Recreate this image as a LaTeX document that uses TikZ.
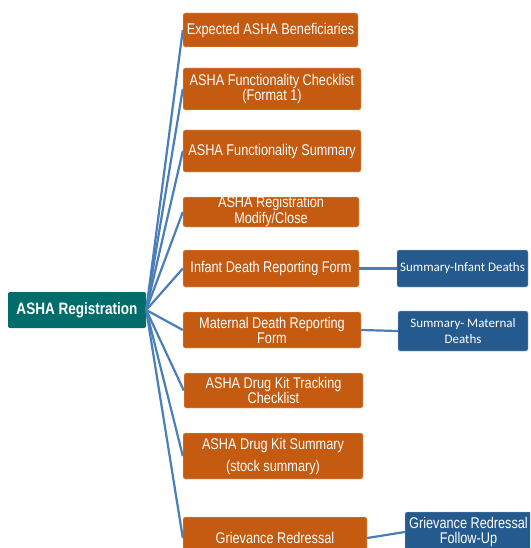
\documentclass[tikz,border=0pt]{standalone}
\usepackage{fontspec}
\setmainfont{Liberation Sans}
\newfontfamily\narrowfont[FakeStretch=0.82]{Liberation Sans}
\newfontfamily\calfont{Carlito}
\begin{document}
\begin{tikzpicture}[x=1pt,y=-1pt,
  obox/.style={draw=orange!40!white, line width=0.4pt, fill=ora, rounded corners=2pt, text=white,
     align=center, inner sep=1pt, font=\narrowfont\fontsize{15.5}{15}\selectfont},
  bbox/.style={draw=blue!30!white, line width=0.4pt, fill=navy, rounded corners=2pt, text=white,
     align=center, inner sep=1pt, font=\calfont\fontsize{13}{16}\selectfont},
  link/.style={draw=lnk, line width=2.2pt}]
\definecolor{ora}{HTML}{C55A11}
\definecolor{navy}{HTML}{245A8D}
\definecolor{teal2}{HTML}{006D6A}
\definecolor{lnk}{HTML}{4A7EBB}
\useasboundingbox (0,0) rectangle (530,548);
\clip (0,0) rectangle (530,548);
\node[fill=teal2, rounded corners=2pt, text=white, minimum width=138, minimum height=36, inner sep=1pt,
  font=\narrowfont\bfseries\fontsize{16.5}{17}\selectfont] (root) at (77,310) {ASHA Registration};
\node[obox, minimum width=175, minimum height=34] (b1) at (270.5,30) {Expected ASHA Beneficiaries};
\node[obox, minimum width=178, minimum height=42] (b2) at (272,89) {ASHA Functionality Checklist\\(Format 1)};
\node[obox, minimum width=178, minimum height=42] (b3) at (272,151) {ASHA Functionality Summary};
\node[obox, minimum width=176, minimum height=30, text height=0pt, text depth=0pt] (b4) at (271,212) {};
\node[text=white, align=center, font=\narrowfont\fontsize{15.5}{16}\selectfont] at (271,211) {ASHA Registration\\Modify/Close};
\node[obox, minimum width=176, minimum height=37] (b5) at (271,268.5) {Infant Death Reporting Form};
\node[obox, minimum width=178, minimum height=36] (b6) at (272,330) {Maternal Death Reporting\\Form};
\node[obox, minimum width=179, minimum height=35] (b7) at (273.5,390.5) {ASHA Drug Kit Tracking\\Checklist};
\node[obox, minimum width=180, minimum height=46, font=\narrowfont\fontsize{15.5}{22}\selectfont] (b8) at (273,456) {ASHA Drug Kit Summary\\(stock summary)};
\node[obox, minimum width=184, minimum height=42] (b9) at (275,538) {Grievance Redressal};
\node[bbox, minimum width=131, minimum height=37] (s1) at (462.5,268.5) {Summary-Infant Deaths};
\node[bbox, minimum width=130, minimum height=40] (s2) at (463,331) {Summary- Maternal\\Deaths};
\node[bbox, minimum width=127, minimum height=40, inner sep=0pt, font=\narrowfont\fontsize{15.5}{15.5}\selectfont] (s3) at (468.5,532) {Grievance Redressal\\Follow-Up};
\foreach \b in {b1,b2,b3,b4,b5,b6,b7,b8,b9}{
  \draw[link] (root.east) -- (\b.west);
}
\draw[link] (b5.east) -- (s1.west);
\draw[link] (b6.east) -- (s2.west);
\draw[link] (b9.east) -- (s3.west);
\end{tikzpicture}
\end{document}
